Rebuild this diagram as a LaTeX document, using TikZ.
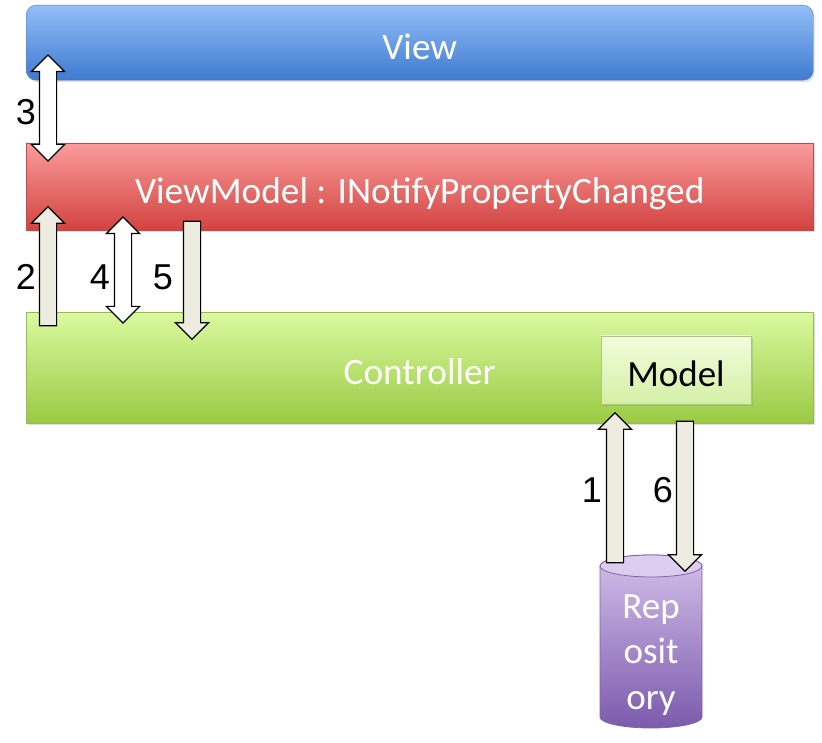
\documentclass[tikz,border=0pt]{standalone}
\usepackage{fontspec}
\setmainfont{Carlito}
\newfontfamily\numfont{Liberation Sans}
\usepackage{tikz}
\usetikzlibrary{positioning,shapes.arrows,shadows}
\definecolor{viewtop}{HTML}{94BDF8}
\definecolor{viewbot}{HTML}{3E7BD0}
\definecolor{viewline}{HTML}{4A7EBB}
\definecolor{vmtop}{HTML}{FA9B9B}
\definecolor{vmbot}{HTML}{D24340}
\definecolor{vmline}{HTML}{BE4B48}
\definecolor{ctltop}{HTML}{DAF9A0}
\definecolor{ctlbot}{HTML}{9ACA44}
\definecolor{ctlline}{HTML}{98B954}
\definecolor{modtop}{HTML}{F1FDDD}
\definecolor{modbot}{HTML}{D4EFA5}
\definecolor{reptop}{HTML}{D2BFEA}
\definecolor{repbot}{HTML}{7C5AAC}
\definecolor{repcap}{HTML}{DCCCF0}
\definecolor{repline}{HTML}{7F63A6}
\definecolor{beige}{HTML}{EEECE1}
\tikzset{layer box/.style={anchor=north west,minimum width=787pt,text=white,
    font=\fontsize{37.3}{45}\selectfont,text height=33pt,text depth=0pt,
    drop shadow={shadow xshift=1.5pt,shadow yshift=-2pt,opacity=0.25}},
  model box/.style={draw=ctlline!80,line width=0.8pt,top color=modtop,bottom color=modbot,
    minimum width=150pt,minimum height=68pt,font=\fontsize{37}{45}\selectfont,
    text height=33pt,text depth=0pt,
    drop shadow={shadow xshift=1.5pt,shadow yshift=-2pt,opacity=0.25}},
  fwd arrow/.style={draw=black,line width=1.2pt,fill=beige,single arrow,
    single arrow head extend=8pt,inner sep=8pt,minimum height=#1},
  both arrow/.style={draw=black,line width=1.2pt,fill=white,double arrow,
    double arrow head extend=8pt,inner sep=8pt,minimum height=#1},
  num/.style={font=\numfont\fontsize{36}{40}\selectfont}}

\begin{document}
\begin{tikzpicture}[x=1pt,y=-1pt]
    \useasboundingbox (0,0) rectangle (822,743);

    \node[layer box,minimum height=75pt,rounded corners=10pt,draw=viewline,
      top color=viewtop,bottom color=viewbot] (view) at (26,5) {View};
    \node[layer box,minimum height=87pt,draw=vmline,
      top color=vmtop,bottom color=vmbot] (vm) at (26,143) {ViewModel : INotifyPropertyChanged};
    \node[layer box,minimum height=111pt,draw=ctlline,
      top color=ctltop,bottom color=ctlbot] (ctl) at (26,312) {Controller};
    \node[model box] (model) at (676,370) {Model};

    \shade[top color=reptop,bottom color=repbot,draw=repline,line width=0.8pt]
      (600,566) -- (600,717) arc[start angle=180,end angle=360,x radius=51pt,y radius=11pt]
      -- (702,566) arc[start angle=0,end angle=180,x radius=51pt,y radius=11pt] -- cycle;
    \draw[fill=repcap,draw=repline,line width=0.8pt] (651,566) ellipse[x radius=51pt,y radius=11pt];
    \node[align=center,text=white,font=\fontsize{37}{45.5}\selectfont] (repo) at (651,655) {Rep\\osit\\ory};

    \node[both arrow=106pt,rotate=90] (a3) at (48,108) {};
    \node[fwd arrow=119pt,rotate=90] (a2) at (48,270.5) {};
    \node[both arrow=106pt,rotate=90] (a4) at (123,270) {};
    \node[fwd arrow=118pt,rotate=-90] (a5) at (192,276) {};
    \node[fwd arrow=150pt,rotate=90] (a1) at (615,492) {};
    \node[fwd arrow=150pt,rotate=-90] (a6) at (685,492) {};

    \node[num] (n3) at (26,112) {3};
    \node[num] (n2) at (26,277) {2};
    \node[num] (n4) at (100,277) {4};
    \node[num] (n5) at (163,277) {5};
    \node[num] (n1) at (592,490) {1};
    \node[num] (n6) at (663,490) {6};
\end{tikzpicture}
\end{document}
